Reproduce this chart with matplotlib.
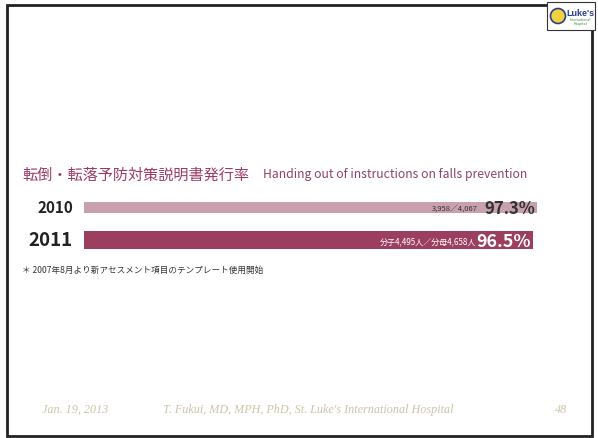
import matplotlib.pyplot as plt
from matplotlib.patches import Rectangle, Circle

plt.rcParams['font.family'] = ['Noto Sans CJK JP', 'DejaVu Sans']

# data
years = ['2010', '2011']
rates = [97.3, 96.5]
counts = ['3,958／4,067', '分子4,495人／分母4,658人']
title_jp = '転倒・転落予防対策説明書発行率'
title_en = 'Handing out of instructions on falls prevention'
note = '＊ 2007年8月より新アセスメント項目のテンプレート使用開始'
footer = ['Jan. 19, 2013', "T. Fukui, MD, MPH, PhD, St. Luke's International Hospital", '48']

bar_colors = ['#c9a1ae', '#9c3e60']
label_colors = ['#333333', 'white']
year_sizes = [11, 13.5]
pct_sizes = [12, 12.8]
cnt_sizes = [5.5, 5.8]
cnt_offsets = [-42.5, -41]
bar_heights = [0.34, 0.55]

W, H = 598, 439
fig = plt.figure(figsize=(W / 100, H / 100), dpi=100)

# page layer in pixel coordinates
bg = fig.add_axes([0, 0, 1, 1])
bg.set_xlim(0, W)
bg.set_ylim(H, 0)
bg.axis('off')

bg.add_patch(Rectangle((7, 6), 585, 431, fill=False, ec='#222222', lw=2.0))

# small logo top right
bg.add_patch(Rectangle((547, 3), 48, 28, fc='white', ec='#333333', lw=0.8))
bg.add_patch(Circle((558, 17), 7.5, fc='#f2d23a', ec='#2a3f8f', lw=1.2))
bg.text(580, 13, "Luke's", fontsize=6.5, color='#2a3f8f', fontweight='bold',
        ha='center', va='center', family=['Liberation Sans'])
bg.text(580, 22, 'International\nHospital', fontsize=2.5, color='#3a8a3a',
        ha='center', va='center', linespacing=1.0)

bg.text(22, 175, title_jp, fontsize=10.9, color='#9c3a66', va='center', ha='left')
bg.text(263, 175, title_en, fontsize=8.8, color='#8e4468', va='center', ha='left')

bg.text(22, 270, note, fontsize=6.2, color='#333333', va='center', ha='left')

for x, s in zip([42, 163, 555], footer):
    bg.text(x, 410, s, fontsize=8.7, color='#cdc4a8', style='italic',
            family=['Liberation Serif'], va='center', ha='left')

# bar chart
x0, x1, ytop, ybot = 84, 537, 200, 252
ax = fig.add_axes([x0 / W, (H - ybot) / H, (x1 - x0) / W, (ybot - ytop) / H])
ypos = list(range(len(years)))
ax.barh(ypos, rates, height=bar_heights, color=bar_colors)
ax.set_xlim(0, max(rates))
ax.set_ylim(1.34, -0.26)
ax.axis('off')

for i, yr in enumerate(years):
    ax.annotate(yr, (0, ypos[i]), xytext=(-8, 0), textcoords='offset points',
                ha='right', va='center', fontsize=year_sizes[i],
                fontweight='semibold', color='#222222', annotation_clip=False)
    ax.annotate(f'{rates[i]}%', (rates[i], ypos[i]), xytext=(-1.5, -0.5),
                textcoords='offset points', ha='right', va='center',
                fontsize=pct_sizes[i], fontweight='bold', color=label_colors[i])
    ax.annotate(counts[i], (rates[i], ypos[i]), xytext=(cnt_offsets[i], -0.5),
                textcoords='offset points', ha='right', va='center',
                fontsize=cnt_sizes[i], color=label_colors[i])

fig.savefig('out.png', dpi=100)
